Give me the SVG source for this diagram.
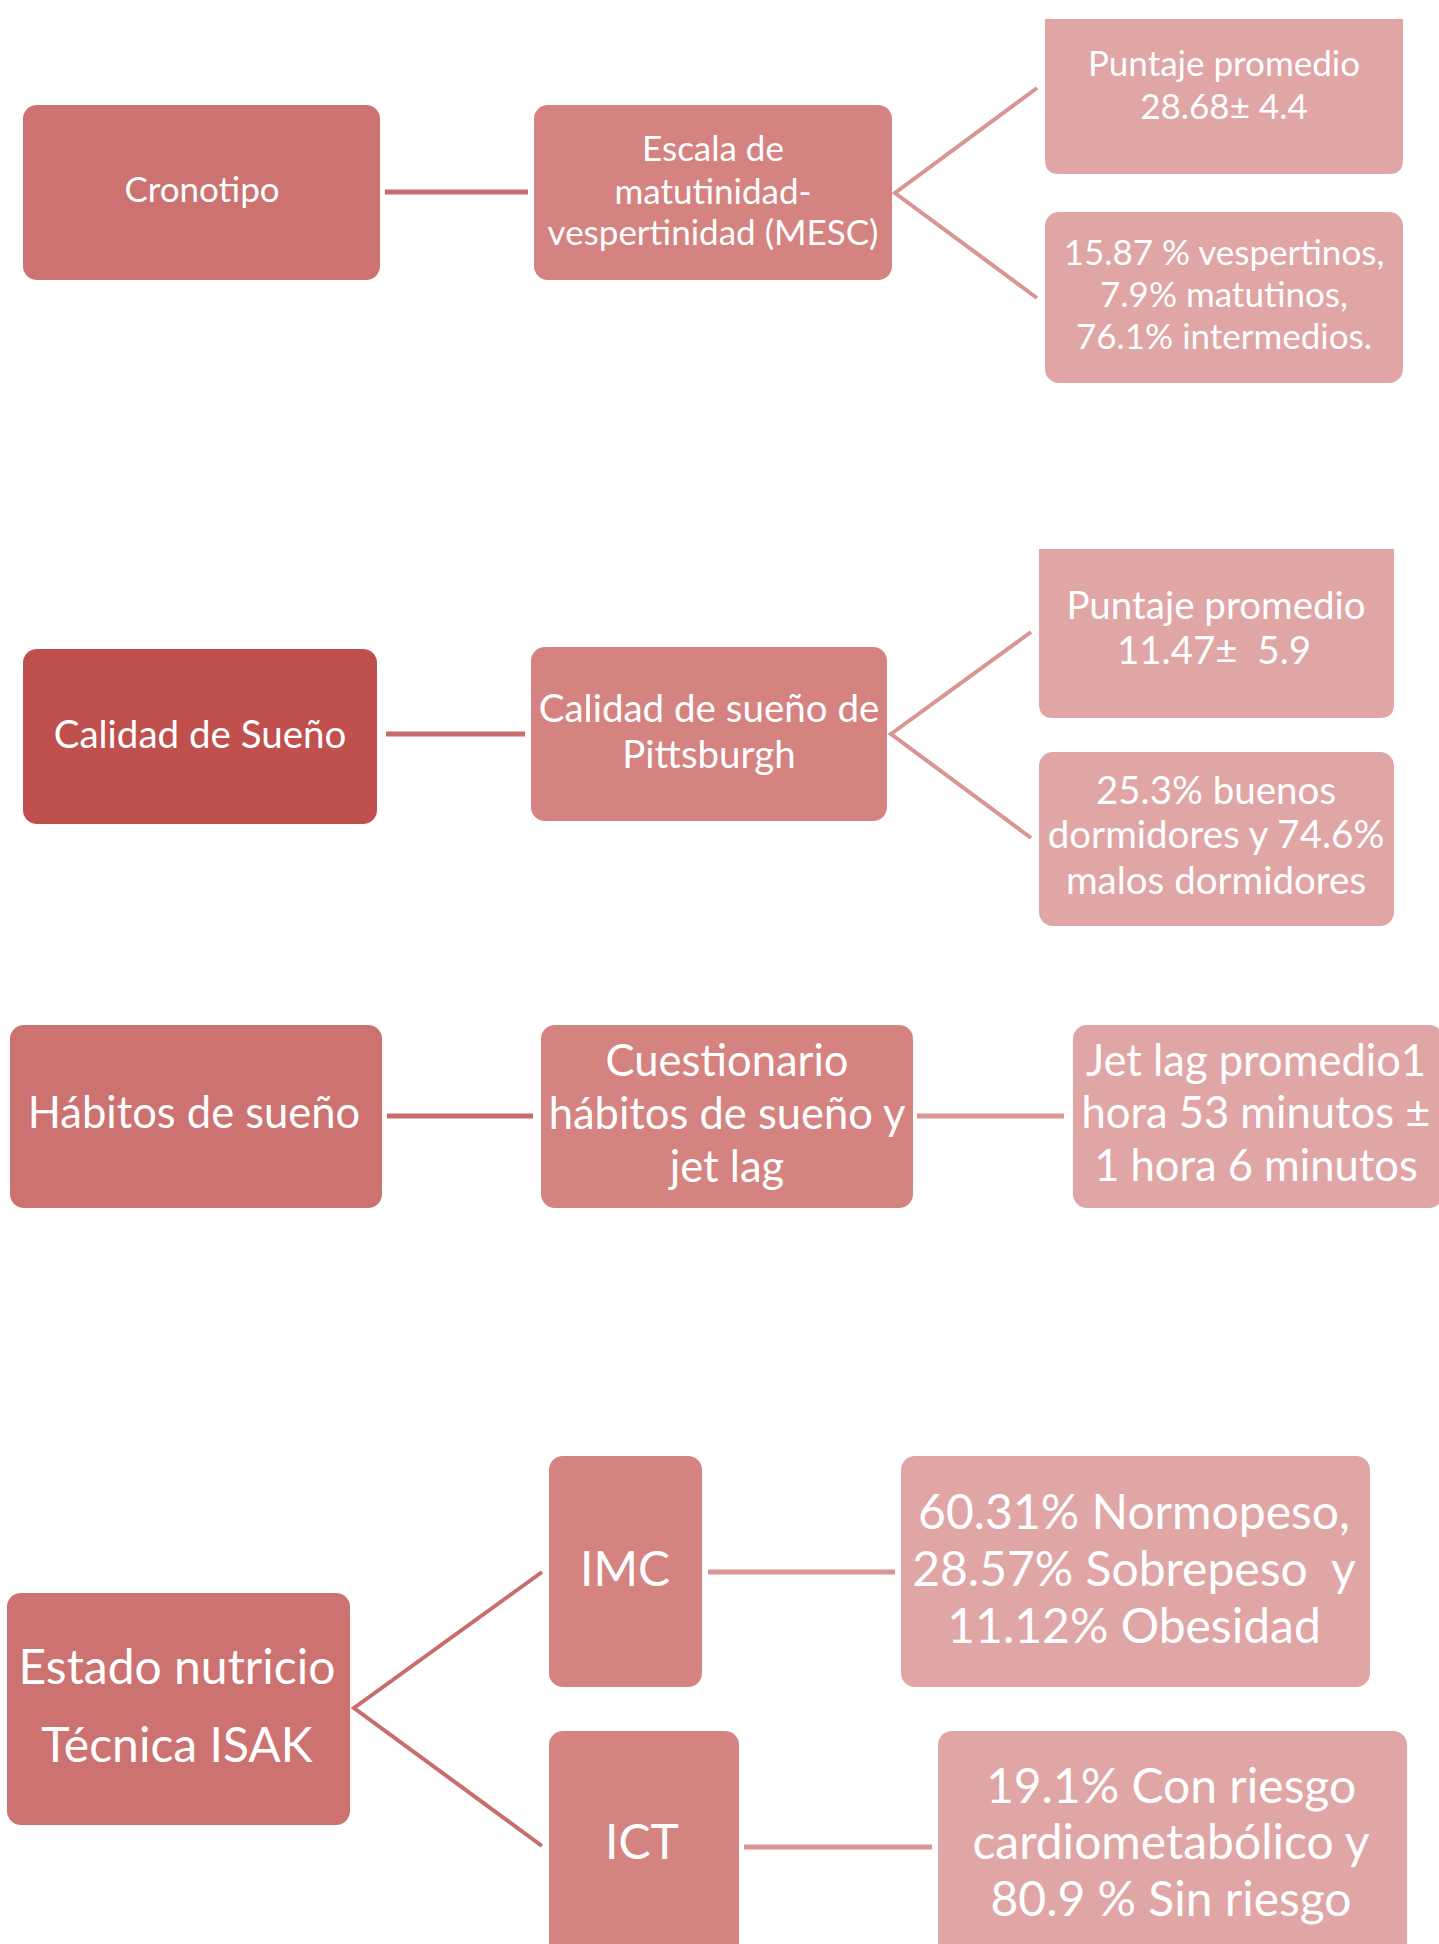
<svg xmlns="http://www.w3.org/2000/svg" width="1439" height="1944" viewBox="0 0 1439 1944">
<style>
  .l1 { fill: #CC7270; }
  .l1d { fill: #C0504D; }
  .l2 { fill: #D48381; }
  .l3 { fill: #DFA6A5; }
  .t { fill: #FFFFFF; font-family: Lato, "Open Sans", "Liberation Sans", sans-serif; text-anchor: middle; }
  .s1 { font-size: 35px; }
  .s2 { font-size: 38.5px; }
  .s3 { font-size: 43.5px; }
  .s4 { font-size: 48px; }
  .cd { stroke: #C96D6C; fill: none; stroke-width: 5; }
  .cl { stroke: #D99593; fill: none; stroke-width: 5; }
  .bd { stroke: #C96D6C; fill: none; stroke-width: 4; }
  .bl { stroke: #D99593; fill: none; stroke-width: 4; }
</style>
<rect width="1439" height="1944" fill="#FFFFFF"/>

<g id="connectors">
  <line class="cd" x1="385" y1="192" x2="528" y2="192"/>
  <polyline class="bl" points="1037,88 895,193 1037,298"/>
  <line class="cd" x1="386" y1="734" x2="525" y2="734"/>
  <polyline class="bl" points="1031,632 891,734 1031,838"/>
  <line class="cd" x1="387" y1="1116" x2="533" y2="1116"/>
  <line class="cl" x1="917" y1="1116" x2="1064" y2="1116"/>
  <polyline class="bd" points="542,1572 354,1708 542,1846"/>
  <line class="cl" x1="708" y1="1572" x2="895" y2="1572"/>
  <line class="cl" x1="744" y1="1847" x2="932" y2="1847"/>
</g>

<g id="cronotipo">
  <rect class="l1" x="23" y="105" width="357" height="175" rx="14"/>
  <text class="t s1" x="202" y="202">Cronotipo</text>
</g>
<g id="mesc">
  <rect class="l2" x="534" y="105" width="358" height="175" rx="14"/>
  <text class="t s1" x="713" y="161">Escala de</text>
  <text class="t s1" x="713" y="204">matutinidad-</text>
  <text class="t s1" x="713" y="245">vespertinidad (MESC)</text>
</g>
<g id="mesc-puntaje">
  <path class="l3" d="M1045,19 H1403 V160 Q1403,174 1389,174 H1059 Q1045,174 1045,160 Z"/>
  <text class="t s1" x="1224" y="76">Puntaje promedio</text>
  <text class="t s1" x="1224" y="119">28.68± 4.4</text>
</g>
<g id="mesc-porcentajes">
  <rect class="l3" x="1045" y="212" width="358" height="171" rx="14"/>
  <text class="t s1" x="1224" y="265">15.87 % vespertinos,</text>
  <text class="t s1" x="1224" y="307">7.9% matutinos,</text>
  <text class="t s1" x="1224" y="349">76.1% intermedios.</text>
</g>

<g id="calidad">
  <rect class="l1d" x="23" y="649" width="354" height="175" rx="14"/>
  <text class="t s2" x="200" y="748">Calidad de Sueño</text>
</g>
<g id="pittsburgh">
  <rect class="l2" x="531" y="647" width="356" height="174" rx="14"/>
  <text class="t s2" x="709" y="722">Calidad de sueño de</text>
  <text class="t s2" x="709" y="768">Pittsburgh</text>
</g>
<g id="pittsburgh-puntaje">
  <path class="l3" d="M1039,549 H1394 V704 Q1394,718 1380,718 H1053 Q1039,718 1039,704 Z"/>
  <text class="t s2" x="1216" y="619">Puntaje promedio</text>
  <text class="t s2" x="1214" y="664" xml:space="preserve">11.47±  5.9</text>
</g>
<g id="pittsburgh-porcentajes">
  <rect class="l3" x="1039" y="752" width="355" height="174" rx="14"/>
  <text class="t s2" x="1216" y="804">25.3% buenos</text>
  <text class="t s2" x="1216" y="848">dormidores y 74.6%</text>
  <text class="t s2" x="1216" y="894">malos dormidores</text>
</g>

<g id="habitos">
  <rect class="l1" x="10" y="1025" width="372" height="183" rx="14"/>
  <text class="t s3" x="194" y="1128">Hábitos de sueño</text>
</g>
<g id="cuestionario">
  <rect class="l2" x="541" y="1025" width="372" height="183" rx="14"/>
  <text class="t s3" x="727" y="1076">Cuestionario</text>
  <text class="t s3" x="727" y="1129">hábitos de sueño y</text>
  <text class="t s3" x="727" y="1182">jet lag</text>
</g>
<g id="jetlag">
  <rect class="l3" x="1073" y="1025" width="370" height="183" rx="14"/>
  <text class="t s3" x="1256" y="1076">Jet lag promedio1</text>
  <text class="t s3" x="1256" y="1128">hora 53 minutos ±</text>
  <text class="t s3" x="1256" y="1181">1 hora 6 minutos</text>
</g>

<g id="estado">
  <rect class="l1" x="7" y="1593" width="343" height="232" rx="14"/>
  <text class="t s4" x="177" y="1684">Estado nutricio</text>
  <text class="t s4" x="177" y="1762">Técnica ISAK</text>
</g>
<g id="imc">
  <rect class="l2" x="549" y="1456" width="153" height="231" rx="14"/>
  <text class="t s4" x="625" y="1586">IMC</text>
</g>
<g id="imc-resultado">
  <rect class="l3" x="901" y="1456" width="469" height="231" rx="14"/>
  <text class="t s4" x="1134" y="1529">60.31% Normopeso,</text>
  <text class="t s4" x="1134" y="1586" xml:space="preserve">28.57% Sobrepeso  y</text>
  <text class="t s4" x="1134" y="1643">11.12% Obesidad</text>
</g>
<g id="ict">
  <rect class="l2" x="549" y="1731" width="190" height="240" rx="14"/>
  <text class="t s4" x="642" y="1859">ICT</text>
</g>
<g id="ict-resultado">
  <rect class="l3" x="938" y="1731" width="469" height="240" rx="14"/>
  <text class="t s4" x="1171" y="1803">19.1% Con riesgo</text>
  <text class="t s4" x="1171" y="1859">cardiometabólico y</text>
  <text class="t s4" x="1171" y="1916">80.9 % Sin riesgo</text>
</g>
</svg>
